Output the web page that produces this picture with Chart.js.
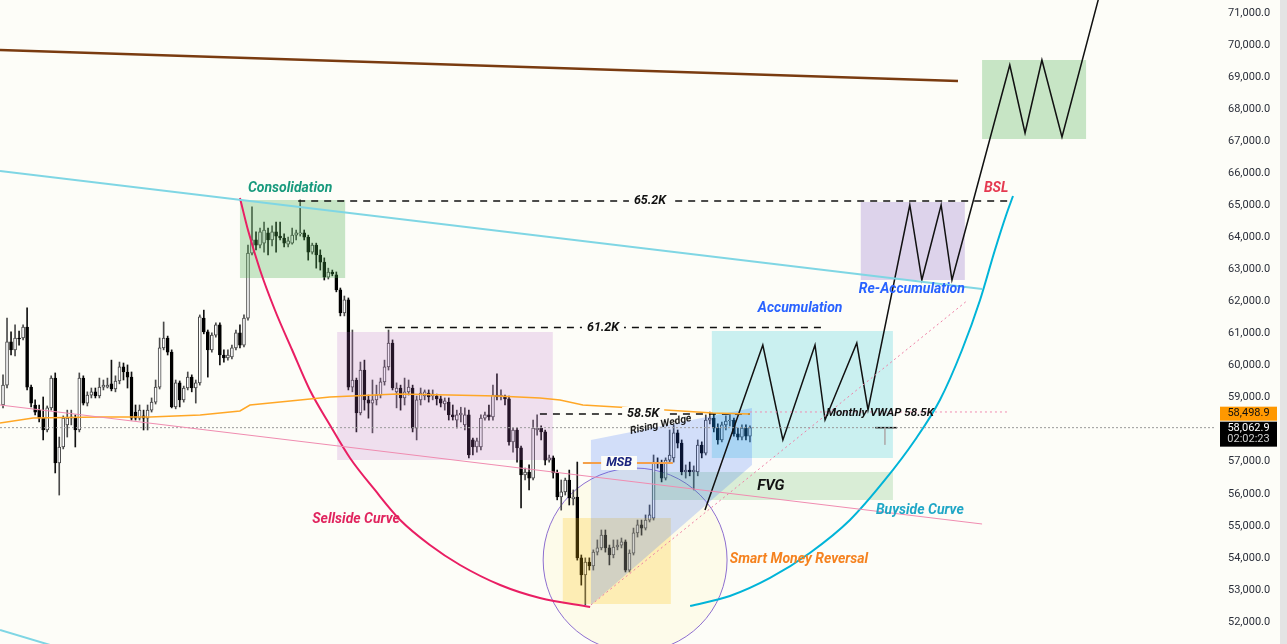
<!DOCTYPE html>
<html>
<head>
<meta charset="utf-8">
<script src="https://cdn.jsdelivr.net/npm/chart.js@4.4.1/dist/chart.umd.min.js"></script>
<style>
  html, body { margin: 0; padding: 0; background: #e4e4e4; }
  #wrap { width: 1280px; height: 644px; position: relative; }
</style>
</head>
<body>
<div id="wrap"><canvas id="btc-chart"></canvas></div>
<script>
// candles (x = bar index)
const opens = [58770,59390,60740,60490,60860,60860,61200,59330,58770,58610,58360,57990,58680,59610,56960,57460,58150,58360,58360,57990,
  59610,58830,59080,59180,59050,59330,59330,59430,59270,59520,59960,59800,59640,58550,58360,58430,58360,58610,58860,59330,
  60550,60860,60420,58710,59460,58930,59300,59640,59300,59460,61480,61050,60490,60950,61270,60330,60240,60270,60550,61020,
  60640,61480,63510,63920,63760,63820,64140,63920,64170,64040,63980,63790,63820,64070,64110,64140,64010,63540,63760,63450,
  63230,62760,62920,62830,62360,61640,62050,59330,59550,58520,59860,58930,58830,58930,59080,59490,59960,60700,59180,59300,
  58990,59180,59300,58050,58930,59050,59140,59050,59050,58960,58800,58860,58460,58300,58460,58150,58460,57680,57460,57460,
  58360,58460,58400,59080,59020,59050,58960,57620,57990,57430,56590,56680,56490,57990,58050,57930,57050,57120,56650,55900,
  56060,56430,55840,55900,54000,53470,53870,53750,54180,54310,54710,54310,54090,54340,54400,54500,53620,54150,54780,55030,
  54930,55180,55240,56990,56960,56490,57050,57120,57900,57580,56680,56740,56680,56680,57520,57270,58300,58360,58050,57680,
  58150,58270,58300,57870,57770,58050,57800];
const highs = [59710,61480,61050,61270,61080,61270,61800,59390,58930,58770,59020,58740,59680,59770,57770,58430,58610,58610,58460,59770,
  59680,59180,59300,59300,59610,59550,59610,60170,59680,60110,60080,60020,59800,58770,58770,58610,58770,58990,59550,60860,
  61360,60920,60490,59550,59520,59360,59800,59710,59550,61580,61730,61110,61020,61330,61330,60490,60490,60640,61110,61270,
  61580,63760,64950,64170,64290,64480,64290,64360,64480,64480,64110,64010,64290,64230,65170,64230,64070,63820,63820,63610,
  63360,63040,62980,62920,62420,62170,62110,61110,59610,60110,60170,59080,59550,59390,59610,60170,61110,60800,59460,59390,
  59610,59550,59390,59050,59300,59240,59240,59240,59110,59050,58990,58990,58770,58610,58700,58680,58610,57740,57740,58460,
  58550,58770,59390,59740,59240,59080,59050,58050,58050,57490,56800,56900,58300,58460,58120,57990,57210,57180,56740,56430,
  56490,56740,56120,56990,54090,54000,54000,54250,54560,54870,54870,54400,54560,54560,54620,54560,54250,54930,55180,55180,
  55340,55650,57210,57120,57050,57120,57990,58150,57990,57680,56900,56990,56870,57680,57620,58460,58550,58490,58180,58240,
  58430,58490,58360,58050,58150,58150,58120];
const lows = [58680,59300,60330,60300,60640,60800,59240,58710,58460,58240,57680,57930,58610,56650,55960,57400,57770,58150,57460,57930,
  58770,58740,58990,58990,58990,59240,59300,59210,59180,59430,59550,59300,58300,58300,58300,57990,57990,58550,58800,59270,
  60490,60330,58680,58650,58710,58860,59240,59180,58830,59390,60990,59640,60420,60890,60020,60110,60170,60210,60490,60550,
  60580,61420,63450,63610,63670,63540,63450,63730,63540,63920,63700,63700,63790,63920,64040,63920,63290,63480,63040,62980,
  62670,62700,62800,62300,61550,61550,59240,59180,57930,58460,58610,58360,57900,58770,58990,59390,59860,59240,58680,58610,
  58770,59080,57930,57680,58770,58930,58860,58930,58770,58710,58610,58300,58300,58050,58240,57990,57120,57210,57300,57370,
  58300,58300,58300,58930,58930,58770,57520,57300,56990,55560,56430,56120,56430,57830,57680,56900,56990,56490,55810,55490,
  55960,55650,55650,53930,53150,52530,53620,53620,54090,54250,54180,53780,54000,54250,54310,53560,53560,54090,54650,54710,
  54870,55120,55180,56800,56370,56430,56990,56990,57430,56590,56490,56560,56120,56560,57120,57210,58180,57930,57550,57620,
  57990,58120,57800,57680,57680,57680,57620];
const closes = [59390,60740,60490,60860,60830,61200,59330,58830,58550,58360,57990,58680,59610,56960,57460,58360,58360,58400,57990,59610,
  58830,59080,59180,59050,59330,59390,59390,59270,59520,59960,59800,59640,58360,58360,58610,58360,58610,58860,59330,60550,
  60860,60420,58710,59460,58930,59300,59640,59300,59460,61520,61050,60490,60950,61270,60330,60240,60330,60550,61020,60640,
  61480,63510,63920,63760,64170,64230,63920,64170,64040,63980,63820,63890,64070,64140,64140,64010,63540,63760,63450,63230,
  62760,62920,62860,62360,61640,62050,59330,59550,58520,59860,58930,58830,58930,59080,59490,59960,60700,59300,59300,58990,
  59180,59330,58050,58930,59140,59180,59020,59110,58960,58830,58900,58460,58400,58460,58520,58460,57210,57460,57650,58360,
  58460,58400,59080,59020,59080,58960,57620,57990,57430,56590,56680,56490,58050,58050,57930,57050,57120,56650,55900,56060,
  56430,55870,55900,54000,53470,53870,53750,54180,54310,54710,54310,54090,54340,54400,54500,53620,54150,54780,55030,54930,
  55180,55340,56990,56960,56490,57050,57210,57900,57580,56680,56740,56680,56740,57520,57270,58300,58360,58050,57680,58150,
  58270,58300,57870,57770,58050,57800,58062.9];

const priceTicks = [52000,53000,54000,55000,56000,57000,58000,59000,60000,61000,62000,63000,64000,65000,66000,67000,68000,69000,70000,71000];

const lastClose = 58062.9;
const lastVwap = 58498.9;
const countdown = "02:02:23";

// monthly VWAP
const vwapX = [-0.75, 7.5, 24.2, 36.6, 49.1, 59.0, 61.5, 71.5, 81.4, 98.1, 111.3, 123.0, 133.7, 138.7, 144.4, 161.1, 176.8, 186.0];
const vwapY = [58208, 58364, 58396, 58396, 58458, 58583, 58770, 58895, 59020, 59113, 59082, 59051, 58988, 58926, 58770, 58645, 58520, 58489];

// curves
const sellsideX = [59.0, 61.0, 64.0, 67.7, 72.0, 76.4, 81.4, 86.4, 92.6, 98.9, 106.3, 113.8, 123.8, 133.7, 146.2];
const sellsideY = [65228, 64230, 62982, 61734, 60486, 59238, 58146, 57116, 56118, 55182, 54402, 53778, 53154, 52748, 52468];
const buysideX = [171.1, 181.0, 191.0, 200.9, 210.9, 219.6, 227.1, 233.3, 238.8, 243.3, 247.0, 249.8, 251.5];
const buysideY = [52499, 52811, 53374, 54152, 55182, 56430, 57678, 58926, 60486, 62046, 63606, 64698, 65290];

// projected path
const forecastX = [174.8, 189.2, 194.2, 202.2, 204.7, 212.6, 215.4, 225.8, 228.8, 233.6, 236.3, 250.7, 254.5, 258.7, 263.7, 273.7];
const forecastY = [55494, 60642, 57678, 60642, 58302, 60704, 58614, 65010, 62670, 65010, 62670, 69378, 67256, 69534, 67132, 71874];

// trend lines [x0, y0, x1, y1]
const brownLine = [-0.75, 69846, 237.8, 68879];
const cyanLine = [-0.75, 66071, 243.8, 62389];
const cyanLowLine = [-0.75, 51750, 14.2, 51190];
const pinkLine = [-0.75, 58770, 243.8, 55057];
const wedgeLow = [146.4, 52530, 240.3, 62046];
const vwapExt = [186.0, 58552, 250.2, 58552];
const targetMark = [217.2, 58063, 222.6, 58063];
const targetStem = [219.6, 58063, 219.6, 57530];

// levels
const lvl652 = [73.5, 65135, 250.2];
const lvl612 = [95.1, 61190, 203.9];
const lvl585 = [133.7, 58489, 186.0];
const msbLevel = [144.4, 56960, 166.8];

// zones [x0, x1, yLow, yHigh, colour]
const zones = [
  [59.0, 85.2, 62732, 65166, "rgba(76,175,80,0.30)"],
  [83.2, 136.9, 57054, 61048, "rgba(186,104,200,0.20)"],
  [139.4, 166.3, 52561, 55244, "rgba(255,193,7,0.24)"],
  [176.5, 221.6, 57116, 61079, "rgba(0,188,212,0.20)"],
  [161.6, 221.6, 55806, 56680, "rgba(76,175,80,0.20)"],
  [213.6, 239.5, 62670, 65104, "rgba(126,87,194,0.25)"],
  [243.8, 269.7, 67069, 69534, "rgba(76,175,80,0.30)"]
];
const wedgeX = [146.4, 186.5, 186.5, 146.4];
const wedgeY = [57678, 58676, 56898, 52530];
const reversalCircle = { x: 157.4, y: 53934, r: 22.9 };

// text [text, x, price, colour, font, angle, background]
const notes = [
  ["Consolidation", 71.5, 65540, "#17997c", "italic bold 14px Roboto", 0, false],
  ["65.2K", 161.1, 65135, "#111", "italic bold 12.5px Roboto", 0, true],
  ["61.2K", 149.4, 61190, "#111", "italic bold 12.5px Roboto", 0, true],
  ["58.5K", 159.4, 58489, "#111", "italic bold 12.5px Roboto", 0, true],
  ["BSL", 247.3, 65540, "#e53950", "italic bold 14px Roboto", 0, false],
  ["Re-Accumulation", 226.3, 62358, "#2962ff", "italic bold 14px Roboto", 0, false],
  ["Accumulation", 198.5, 61796, "#2962ff", "italic bold 14px Roboto", 0, false],
  ["Rising Wedge", 163.8, 58150, "#1c1c1c", "italic bold 10.5px Roboto", -12, false],
  ["Monthly VWAP 58.5K", 218.4, 58520, "#111", "italic bold 11.5px Roboto", 0, false],
  ["MSB", 153.4, 56960, "#1a237e", "italic bold 12.5px Roboto", 0, true],
  ["FVG", 191.2, 56243, "#111", "italic bold 15px Roboto", 0, false],
  ["Sellside Curve", 87.9, 55182, "#e0245e", "italic bold 14px Roboto", 0, false],
  ["Buyside Curve", 228.3, 55463, "#1fa6c6", "italic bold 14px Roboto", 0, false],
  ["Smart Money Reversal", 198.2, 53965, "#f5821f", "italic bold 14px Roboto", 0, false]
];

const BG = "#fdfdf8";

function pts(xs, ys) {
  return xs.map((x, i) => ({ x: x, y: ys[i] }));
}

function seg(s) {
  return [{ x: s[0], y: s[1] }, { x: s[2], y: s[3] }];
}

function level(l) {
  return [{ x: l[0], y: l[1] }, { x: l[2], y: l[1] }];
}

function lineDs(data, color, width, extra) {
  return Object.assign({
    type: "line",
    data: data,
    borderColor: color,
    borderWidth: width,
    pointRadius: 0,
    fill: false,
    tension: 0,
    order: 10
  }, extra || {});
}

const upDown = (i) => closes[i] >= opens[i];

const wicks = opens.map((_, i) => ({ x: i, y: [lows[i], highs[i]] }));
const bodies = opens.map((_, i) => ({ x: i, y: [opens[i], closes[i]] }));

const bgPlugin = {
  id: "bg",
  beforeDraw(chart) {
    const ctx = chart.ctx;
    ctx.save();
    ctx.fillStyle = BG;
    ctx.fillRect(0, 0, chart.width, chart.height);
    ctx.restore();
  },
  beforeDatasetsDraw(chart) {
    const { ctx, chartArea, scales } = chart;
    const xs = scales.x, ys = scales.y;
    const cx = xs.getPixelForValue(reversalCircle.x);
    const cy = ys.getPixelForValue(reversalCircle.y);
    const r = xs.getPixelForValue(reversalCircle.x + reversalCircle.r) - cx;
    ctx.save();
    ctx.beginPath();
    ctx.rect(chartArea.left, chartArea.top, chartArea.width, chartArea.height);
    ctx.clip();
    ctx.beginPath();
    ctx.arc(cx, cy, r, 0, Math.PI * 2);
    ctx.fillStyle = "rgba(255,236,120,0.10)";
    ctx.fill();
    ctx.strokeStyle = "#8e6fd0";
    ctx.lineWidth = 1;
    ctx.stroke();
    ctx.restore();
  },
  afterDatasetDraw(chart, args) {
    if (chart.data.datasets[args.index].label !== "bodies") return;
    const { ctx, chartArea, scales } = chart;
    const xs = scales.x, ys = scales.y;
    ctx.save();
    ctx.beginPath();
    ctx.rect(chartArea.left, chartArea.top, chartArea.width, chartArea.height);
    ctx.clip();
    zones.forEach(z => {
      const x0 = xs.getPixelForValue(z[0]);
      const x1 = xs.getPixelForValue(z[1]);
      const y0 = ys.getPixelForValue(z[3]);
      const y1 = ys.getPixelForValue(z[2]);
      ctx.fillStyle = z[4];
      ctx.fillRect(x0, y0, x1 - x0, y1 - y0);
    });
    ctx.beginPath();
    wedgeX.forEach((x, i) => {
      const px = xs.getPixelForValue(x), py = ys.getPixelForValue(wedgeY[i]);
      if (i === 0) ctx.moveTo(px, py); else ctx.lineTo(px, py);
    });
    ctx.closePath();
    ctx.fillStyle = "rgba(41,98,255,0.20)";
    ctx.fill();
    ctx.restore();
  },
  afterDatasetsDraw(chart) {
    const { ctx, scales } = chart;
    const xs = scales.x, ys = scales.y;
    ctx.save();
    ctx.textAlign = "center";
    ctx.textBaseline = "middle";
    notes.forEach(n => {
      const px = xs.getPixelForValue(n[1]);
      const py = ys.getPixelForValue(n[2]);
      ctx.save();
      ctx.translate(px, py);
      ctx.rotate(n[5] * Math.PI / 180);
      ctx.font = n[4];
      if (n[6]) {
        const w = ctx.measureText(n[0]).width;
        ctx.fillStyle = BG;
        ctx.fillRect(-w / 2 - 5, -7, w + 10, 14);
      }
      ctx.fillStyle = n[3];
      ctx.fillText(n[0], 0, 0);
      ctx.restore();
    });
    ctx.restore();
  },
  afterDraw(chart) {
    const { ctx, chartArea, scales } = chart;
    const ys = scales.y;
    const left = chartArea.right + 4;
    const w = 57;
    ctx.save();
    ctx.font = "11px Roboto";
    ctx.textAlign = "center";
    ctx.textBaseline = "middle";
    const vy = ys.getPixelForValue(lastVwap);
    ctx.fillStyle = "#ff9800";
    ctx.fillRect(left, vy - 7, w, 14);
    ctx.fillStyle = "#111";
    ctx.fillText(lastVwap.toLocaleString("en-US", { minimumFractionDigits: 1 }), left + w / 2, vy);
    const cy = ys.getPixelForValue(lastClose);
    ctx.fillStyle = "#000";
    ctx.fillRect(left, cy - 6, w, 25);
    ctx.fillStyle = "#fff";
    ctx.fillText(lastClose.toLocaleString("en-US", { minimumFractionDigits: 1 }), left + w / 2, cy + 0.5);
    ctx.fillStyle = "#cfcfcf";
    ctx.fillText(countdown, left + w / 2, cy + 12);
    ctx.restore();
  }
};

const datasets = [
  {
    label: "wicks",
    data: wicks,
    backgroundColor: (c) => upDown(c.dataIndex) ? "#4a4a4a" : "#111",
    barThickness: 1,
    grouped: false,
    order: 101
  },
  {
    label: "bodies",
    data: bodies,
    backgroundColor: (c) => upDown(c.dataIndex) ? "#ffffff" : "#000000",
    borderColor: (c) => upDown(c.dataIndex) ? "#444444" : "#000000",
    borderWidth: 1,
    borderSkipped: false,
    minBarLength: 1,
    barThickness: 3,
    grouped: false,
    order: 100
  },
  lineDs(seg(brownLine), "#7a3b10", 2.5),
  lineDs(seg(cyanLine), "#7fd6e4", 2),
  lineDs(seg(cyanLowLine), "#7fd6e4", 2),
  lineDs(seg(pinkLine), "#f08cb0", 1),
  lineDs(seg(wedgeLow), "#ef7fa5", 1, { borderDash: [2, 3] }),
  lineDs(seg(vwapExt), "#f08cb0", 1, { borderDash: [2, 3] }),
  lineDs(pts(vwapX, vwapY), "#ffa726", 1.5),
  lineDs([{ x: -0.75, y: lastClose }, { x: 302, y: lastClose }], "#9a9a9a", 1, { borderDash: [2, 2] }),
  lineDs(seg(targetStem), "#b0b0b0", 1),
  lineDs(seg(targetMark), "#111", 1.5),
  lineDs(level(lvl652), "#111", 1.5, { borderDash: [7, 6] }),
  lineDs(level(lvl612), "#111", 1.5, { borderDash: [7, 6] }),
  lineDs(level(lvl585), "#111", 1.5, { borderDash: [7, 6] }),
  lineDs(level(msbLevel), "#f4a04a", 2),
  lineDs(pts(sellsideX, sellsideY), "#e91e63", 2, { cubicInterpolationMode: "monotone" }),
  lineDs(pts(buysideX, buysideY), "#00b4d8", 2, { cubicInterpolationMode: "monotone" }),
  lineDs(pts(forecastX, forecastY), "#111", 1.5)
];

new Chart(document.getElementById("btc-chart"), {
  type: "bar",
  data: { datasets: datasets },
  plugins: [bgPlugin],
  options: {
    responsive: true,
    maintainAspectRatio: false,
    animation: false,
    layout: { padding: 0 },
    plugins: {
      legend: { display: false },
      tooltip: { enabled: false }
    },
    scales: {
      x: {
        type: "linear",
        min: -0.75,
        max: 302.05,
        offset: false,
        display: false
      },
      y: {
        position: "right",
        min: 51313,
        max: 71406,
        grid: { display: false, drawTicks: false },
        border: { display: false },
        afterBuildTicks: (s) => { s.ticks = priceTicks.map(v => ({ value: v })); },
        afterFit: (s) => { s.width = 64; s.paddingTop = 0; s.paddingBottom = 0; },
        ticks: {
          padding: 12,
          color: "#2a2e39",
          font: { family: "Roboto", size: 11 },
          callback: (v) => Number(v).toLocaleString("en-US", { minimumFractionDigits: 1, maximumFractionDigits: 1 })
        }
      }
    }
  }
});
</script>
</body>
</html>
